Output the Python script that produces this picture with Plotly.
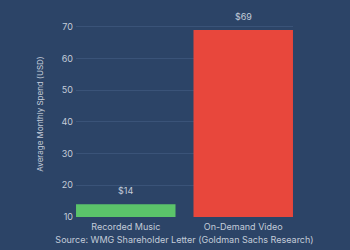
import plotly.graph_objects as go

categories = ["Recorded Music", "On-Demand Video"]
values = [14, 69]
colors = ["#5bc46a", "#e8473c"]
y_ticks = [10, 20, 30, 40, 50, 60, 70]

bg = "#2c4467"
txt = "#c3ccd9"

fig = go.Figure()
fig.add_trace(go.Bar(
    x=categories, y=[v - 10 for v in values], base=10,
    marker=dict(color=colors, line=dict(width=0)),
    width=0.847, hoverinfo="skip",
))
for c, v in zip(categories, values):
    fig.add_annotation(x=c, y=v, text=f"${v}", showarrow=False, yshift=14,
                       font=dict(family="Inter", size=9, color=txt))

fig.update_layout(
    width=350, height=250,
    margin=dict(l=76, r=57, t=11, b=33),
    paper_bgcolor=bg, plot_bgcolor=bg,
    showlegend=False,
    font=dict(family="Inter", size=9, color=txt),
    xaxis=dict(range=[-0.4237, 1.4237], showgrid=False, zeroline=False, showline=False,
               automargin=False,
               ticks="", tickfont=dict(size=9, color=txt), ticklabelstandoff=3,
               title=dict(text="Source: WMG Shareholder Letter (Goldman Sachs Research)",
                          font=dict(size=9, color=txt), standoff=5)),
    yaxis=dict(range=[10, 75], tickvals=y_ticks, showgrid=True, gridcolor="#3a5378",
               gridwidth=1, zeroline=False, showline=False, ticks="", automargin=False,
               tickfont=dict(size=9, color=txt), ticklabelstandoff=2,
               title=dict(text="Average Monthly Spend (USD)", font=dict(size=8, color=txt), standoff=16)),
)
fig.write_html("out.html")
